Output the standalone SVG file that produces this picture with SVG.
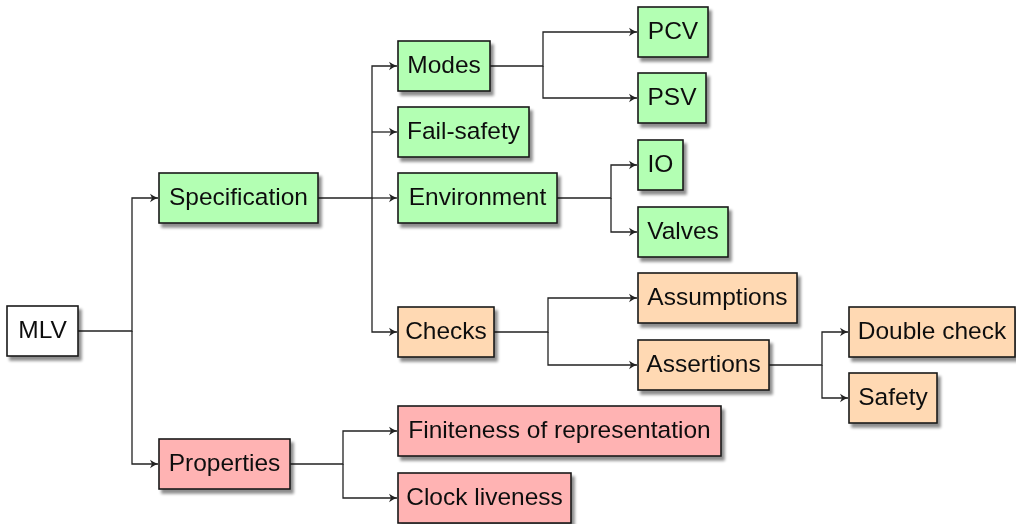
<svg xmlns="http://www.w3.org/2000/svg" width="1016" height="524" viewBox="0 0 1016 524">
<defs>
<filter id="sh" x="-10%" y="-20%" width="130%" height="160%">
<feGaussianBlur in="SourceAlpha" stdDeviation="1.8"/>
<feOffset dx="3" dy="4" result="b"/>
<feComponentTransfer><feFuncA type="linear" slope="0.45"/></feComponentTransfer>
<feMerge><feMergeNode/><feMergeNode in="SourceGraphic"/></feMerge>
</filter>
<marker id="ar" markerWidth="12" markerHeight="12" refX="9" refY="6" orient="auto" markerUnits="userSpaceOnUse">
<path d="M1,1.8 Q5.5,5 9,6 Q5.5,7 1,10.2 L3,6 Z" fill="#222"/>
</marker>
</defs>
<style>
rect{stroke:#1a1a1a;stroke-width:1.6}
.w{fill:#ffffff}
.g{fill:#b3ffb3}
.o{fill:#ffd9b3}
.r{fill:#ffb3b3}
text{font-family:"Liberation Sans",Arial,sans-serif;font-size:24.5px;fill:#111;text-anchor:middle}
.c path{fill:none;stroke:#222;stroke-width:1.3}
.c path.a{marker-end:url(#ar)}
</style>
<g class="c" id="connectors">
<path class="a" d="M78,331 H132 V198 H158"/>
<path class="a" d="M132,331 V464 H158"/>
<path class="a" d="M318,198 H372 V66 H397"/>
<path class="a" d="M372,132 H397"/>
<path class="a" d="M372,198 H397"/>
<path class="a" d="M372,198 V332 H397"/>
<path class="a" d="M490,66 H543 V32 H637"/>
<path class="a" d="M543,66 V98 H637"/>
<path class="a" d="M557,198 H611 V165 H637"/>
<path class="a" d="M611,198 V232 H637"/>
<path class="a" d="M494,332 H548 V298 H637"/>
<path class="a" d="M548,332 V365 H637"/>
<path class="a" d="M769,365 H822 V332 H848"/>
<path class="a" d="M822,365 V398 H848"/>
<path class="a" d="M290,464 H343 V431 H397"/>
<path class="a" d="M343,464 V498 H397"/>
</g>
<g id="mlv" filter="url(#sh)"><rect class="w" x="7" y="306" width="71" height="50"/><text x="42.5" y="338">MLV</text></g>
<g id="specification" filter="url(#sh)"><rect class="g" x="159" y="173" width="159" height="50"/><text x="238.5" y="205">Specification</text></g>
<g id="properties" filter="url(#sh)"><rect class="r" x="159" y="439" width="131" height="50"/><text x="224.5" y="471">Properties</text></g>
<g id="modes" filter="url(#sh)"><rect class="g" x="398" y="41" width="92" height="50"/><text x="444" y="73">Modes</text></g>
<g id="failsafety" filter="url(#sh)"><rect class="g" x="398" y="107" width="131" height="50"/><text x="463.5" y="139">Fail-safety</text></g>
<g id="environment" filter="url(#sh)"><rect class="g" x="398" y="173" width="159" height="50"/><text x="477.5" y="205">Environment</text></g>
<g id="checks" filter="url(#sh)"><rect class="o" x="398" y="307" width="96" height="50"/><text x="446" y="339">Checks</text></g>
<g id="pcv" filter="url(#sh)"><rect class="g" x="638" y="7" width="70" height="50"/><text x="673" y="39">PCV</text></g>
<g id="psv" filter="url(#sh)"><rect class="g" x="638" y="73" width="68" height="50"/><text x="672" y="105">PSV</text></g>
<g id="io" filter="url(#sh)"><rect class="g" x="638" y="140" width="45" height="50"/><text x="660.5" y="172">IO</text></g>
<g id="valves" filter="url(#sh)"><rect class="g" x="638" y="207" width="90" height="50"/><text x="683" y="239">Valves</text></g>
<g id="assumptions" filter="url(#sh)"><rect class="o" x="638" y="273" width="159" height="50"/><text x="717.5" y="305">Assumptions</text></g>
<g id="assertions" filter="url(#sh)"><rect class="o" x="638" y="340" width="131" height="50"/><text x="703.5" y="372">Assertions</text></g>
<g id="doublecheck" filter="url(#sh)"><rect class="o" x="849" y="307" width="166" height="50"/><text x="932" y="339">Double check</text></g>
<g id="safety" filter="url(#sh)"><rect class="o" x="849" y="373" width="88" height="50"/><text x="893" y="405">Safety</text></g>
<g id="finiteness" filter="url(#sh)"><rect class="r" x="398" y="406" width="323" height="50"/><text x="559.5" y="438">Finiteness of representation</text></g>
<g id="clockliveness" filter="url(#sh)"><rect class="r" x="398" y="473" width="173" height="50"/><text x="484.5" y="505">Clock liveness</text></g>
</svg>
